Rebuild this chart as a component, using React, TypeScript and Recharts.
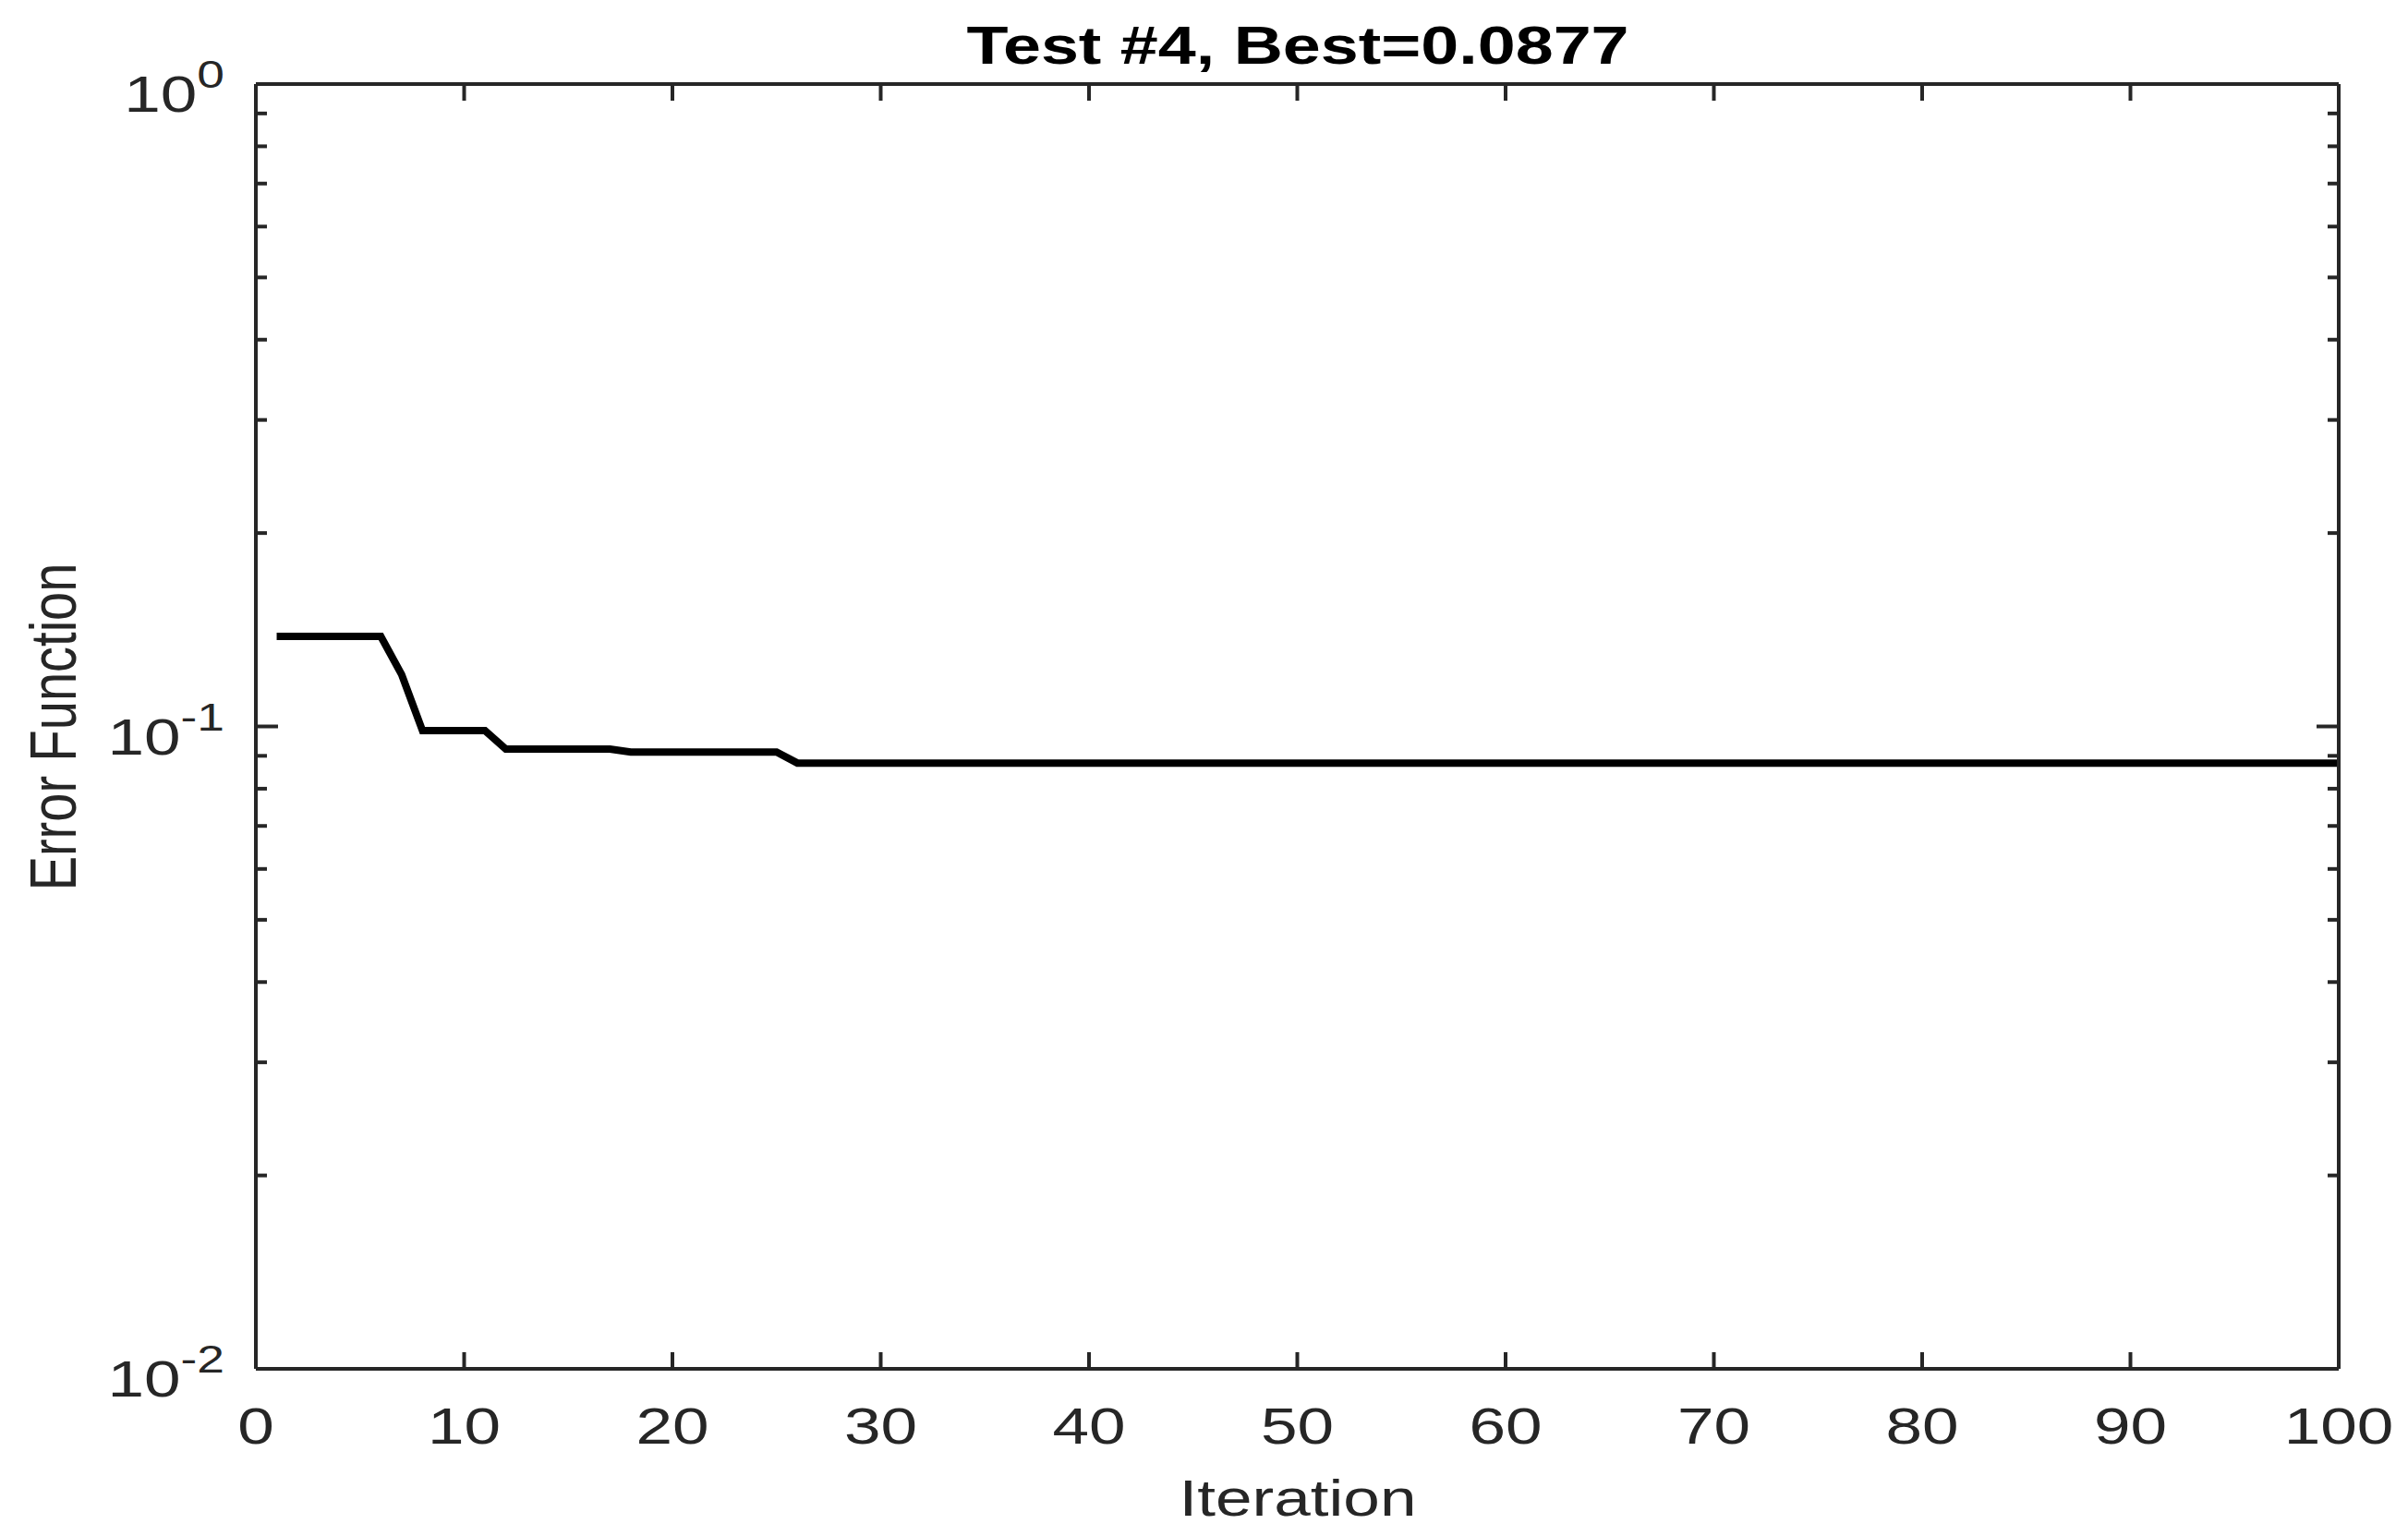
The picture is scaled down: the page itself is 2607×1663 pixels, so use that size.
import React from "react";
import { LineChart, Line, XAxis, YAxis, Label } from "recharts";

const W = 2607;
const H = 1663;

const TITLE = "Test #4, Best=0.0877";
const X_LABEL = "Iteration";
const Y_LABEL = "Error Function";

// iteration number for each sample
const iterations = [
  1, 2, 3, 4, 5, 6, 7, 8, 9, 10,
  11, 12, 13, 14, 15, 16, 17, 18, 19, 20,
  21, 22, 23, 24, 25, 26, 27, 28, 29, 30,
  31, 32, 33, 34, 35, 36, 37, 38, 39, 40,
  41, 42, 43, 44, 45, 46, 47, 48, 49, 50,
  51, 52, 53, 54, 55, 56, 57, 58, 59, 60,
  61, 62, 63, 64, 65, 66, 67, 68, 69, 70,
  71, 72, 73, 74, 75, 76, 77, 78, 79, 80,
  81, 82, 83, 84, 85, 86, 87, 88, 89, 90,
  91, 92, 93, 94, 95, 96, 97, 98, 99, 100,
];

// best error found so far
const bestError = [
  0.1381, 0.1381, 0.1381, 0.1381, 0.1381, 0.1381, 0.1204, 0.0985, 0.0985, 0.0985,
  0.0985, 0.0922, 0.0922, 0.0922, 0.0922, 0.0922, 0.0922, 0.0912, 0.0912, 0.0912,
  0.0912, 0.0912, 0.0912, 0.0912, 0.0912, 0.0877, 0.0877, 0.0877, 0.0877, 0.0877,
  0.0877, 0.0877, 0.0877, 0.0877, 0.0877, 0.0877, 0.0877, 0.0877, 0.0877, 0.0877,
  0.0877, 0.0877, 0.0877, 0.0877, 0.0877, 0.0877, 0.0877, 0.0877, 0.0877, 0.0877,
  0.0877, 0.0877, 0.0877, 0.0877, 0.0877, 0.0877, 0.0877, 0.0877, 0.0877, 0.0877,
  0.0877, 0.0877, 0.0877, 0.0877, 0.0877, 0.0877, 0.0877, 0.0877, 0.0877, 0.0877,
  0.0877, 0.0877, 0.0877, 0.0877, 0.0877, 0.0877, 0.0877, 0.0877, 0.0877, 0.0877,
  0.0877, 0.0877, 0.0877, 0.0877, 0.0877, 0.0877, 0.0877, 0.0877, 0.0877, 0.0877,
  0.0877, 0.0877, 0.0877, 0.0877, 0.0877, 0.0877, 0.0877, 0.0877, 0.0877, 0.0877,
];

const xTicks = [0, 10, 20, 30, 40, 50, 60, 70, 80, 90, 100];
const yMajor = [0.01, 0.1, 1];
const yExponent = ["-2", "-1", "0"];
const yTicks = [
  0.01, 0.02, 0.03, 0.04, 0.05, 0.06, 0.07, 0.08, 0.09,
  0.1, 0.2, 0.3, 0.4, 0.5, 0.6, 0.7, 0.8, 0.9, 1,
];

const data = iterations.map((it, i) => ({ it, err: bestError[i] }));

const FONT = "'Liberation Sans', Arial, Helvetica, sans-serif";
const AXIS = "#262626";
const SX = 1.27; // the source figure is stretched horizontally

function XTick(props: any) {
  const { x, y, payload, top } = props;
  if (top) {
    return <line x1={x} x2={x} y1={y} y2={y + 18} stroke={AXIS} strokeWidth={4} />;
  }
  return (
    <g>
      <line x1={x} x2={x} y1={y} y2={y - 18} stroke={AXIS} strokeWidth={4} />
      <text
        transform={`translate(${x},${y + 81}) scale(${SX},1)`}
        textAnchor="middle"
        fontFamily={FONT}
        fontSize={56}
        fill={AXIS}
      >
        {payload.value}
      </text>
    </g>
  );
}

function YTick(props: any) {
  const { x, y, payload, right } = props;
  const idx = yMajor.indexOf(payload.value);
  const len = idx >= 0 ? 24 : 12;
  const dir = right ? -1 : 1;
  return (
    <g>
      <line x1={x} x2={x + dir * len} y1={y} y2={y} stroke={AXIS} strokeWidth={4} />
      {!right && idx >= 0 && (
        <text
          transform={`translate(${x - 34},${y + 30}) scale(${SX},1)`}
          textAnchor="end"
          fontFamily={FONT}
          fontSize={56}
          fill={AXIS}
        >
          10
          <tspan dy={-26} fontSize={42}>
            {yExponent[idx]}
          </tspan>
        </text>
      )}
    </g>
  );
}

export default function App() {
  return (
    <div style={{ position: "absolute", left: 0, top: 0, width: W, height: H, background: "#fff" }}>
      <LineChart width={W} height={H} data={data} margin={{ top: 90, right: 74, bottom: 0, left: 0 }}>
        <XAxis
          xAxisId="bottom"
          dataKey="it"
          type="number"
          domain={[0, 100]}
          ticks={xTicks}
          height={181}
          tickSize={0}
          tickMargin={0}
          tickLine={false}
          axisLine={{ stroke: AXIS, strokeWidth: 4 }}
          tick={<XTick />}
          interval={0}
        >
          <Label
            content={() => (
              <g>
                <text
                  transform={`translate(1405,1641) scale(${SX},1)`}
                  textAnchor="middle"
                  fontFamily={FONT}
                  fontSize={56}
                  fill={AXIS}
                >
                  {X_LABEL}
                </text>
                <text
                  transform={`translate(1405,69) scale(${SX},1)`}
                  textAnchor="middle"
                  fontFamily={FONT}
                  fontSize={58}
                  fontWeight="bold"
                  fill="#000"
                >
                  {TITLE}
                </text>
              </g>
            )}
          />
        </XAxis>
        <XAxis
          xAxisId="top"
          orientation="top"
          dataKey="it"
          type="number"
          domain={[0, 100]}
          ticks={xTicks}
          height={1}
          tickSize={0}
          tickMargin={0}
          tickLine={false}
          axisLine={{ stroke: AXIS, strokeWidth: 4 }}
          tick={<XTick top />}
          interval={0}
        />
        <YAxis
          yAxisId="left"
          scale="log"
          type="number"
          domain={[0.01, 1]}
          allowDataOverflow
          ticks={yTicks}
          width={277}
          tickSize={0}
          tickMargin={0}
          tickLine={false}
          axisLine={{ stroke: AXIS, strokeWidth: 4 }}
          tick={<YTick />}
          interval={0}
        >
          <Label
            content={() => (
              <text
                transform={`translate(82,787) scale(${SX},1) rotate(-90)`}
                textAnchor="middle"
                fontFamily={FONT}
                fontSize={56}
                fill={AXIS}
              >
                {Y_LABEL}
              </text>
            )}
          />
        </YAxis>
        <YAxis
          yAxisId="right"
          orientation="right"
          scale="log"
          type="number"
          domain={[0.01, 1]}
          allowDataOverflow
          ticks={yTicks}
          width={1}
          tickSize={0}
          tickMargin={0}
          tickLine={false}
          axisLine={{ stroke: AXIS, strokeWidth: 4 }}
          tick={<YTick right />}
          interval={0}
        />
        <Line
          xAxisId="top"
          yAxisId="right"
          type="linear"
          dataKey="err"
          stroke="none"
          strokeWidth={0}
          dot={false}
          legendType="none"
          isAnimationActive={false}
        />
        <Line
          xAxisId="bottom"
          yAxisId="left"
          type="linear"
          dataKey="err"
          stroke="#000"
          strokeWidth={8}
          dot={false}
          isAnimationActive={false}
        />
      </LineChart>
    </div>
  );
}
